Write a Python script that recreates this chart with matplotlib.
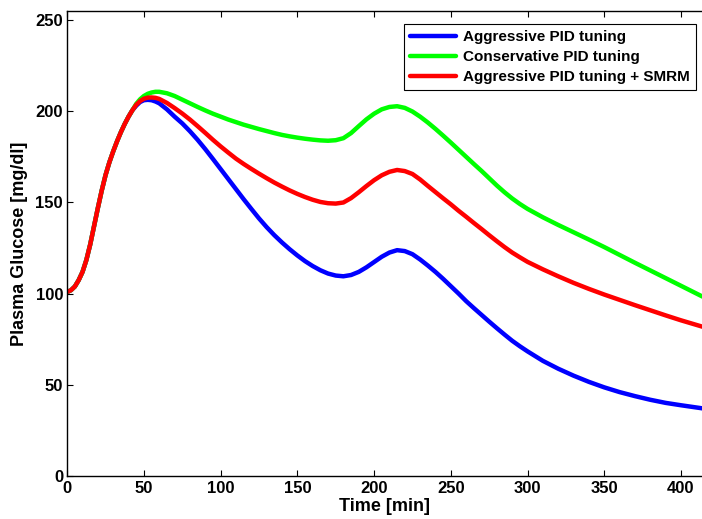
import matplotlib
matplotlib.use("Agg")
import matplotlib.pyplot as plt

plt.rcParams.update({
    "font.family": ["Liberation Sans", "DejaVu Sans"],
    "font.weight": "bold",
    "font.size": 11,
})

# Sample times [min]
t = [0, 2.5, 5, 7.5, 10, 12.5, 15, 17.5, 20, 22.5, 25, 27.5, 30, 32.5, 35,
     37.5, 40, 42.5, 45, 47.5, 50, 52.5, 55, 57.5, 60,
     65, 70, 75, 80, 85, 90, 95, 100, 105, 110, 115, 120, 125, 130, 135, 140,
     145, 150, 155, 160, 165, 170, 175, 180, 185, 190, 195, 200, 205, 210,
     215, 220, 225, 230, 235, 240, 245, 250, 255, 260, 265, 270, 275, 280,
     285, 290, 295, 300,
     310, 320, 330, 340, 350, 360, 370, 380, 390, 400, 414]

# Plasma glucose [mg/dl]
aggressive = [101, 102, 104, 107.5, 112, 118.5, 127, 137, 147, 156.5, 165,
              172, 178, 183.5, 188.5, 193, 197, 200.5, 203, 205, 206, 206.2,
              206, 205.3, 204.3,
              201, 197, 193.3, 189, 184.3, 179.2, 173.8, 168.3, 162.8, 157.3,
              151.8, 146.5, 141.3, 136.5, 132.1, 128.1, 124.4, 121, 117.9,
              115.2, 112.9, 111.1, 110, 109.6, 110.3, 112, 114.5, 117.4,
              120.3, 122.6, 123.9, 123.4, 121.7, 118.8, 115.5, 112, 108.2,
              104.2, 100.2, 96, 92.2, 88.5, 84.8, 81.2, 77.7, 74.3, 71.3,
              68.5,
              63.3, 59, 55.2, 51.8, 48.8, 46.2, 44, 42, 40.3, 39, 37.3]
conservative = [101, 102, 104, 107.5, 112, 118.5, 127, 137, 147, 156.5, 165,
                172, 178, 183.5, 188.5, 193, 197, 200.5, 204, 206.5, 208.3,
                209.5, 210.2, 210.6, 210.6,
                209.8, 208.3, 206.3, 204.3, 202.3, 200.4, 198.6, 197, 195.4,
                194, 192.6, 191.4, 190.2, 189.1, 188, 187, 186.2, 185.5,
                184.9, 184.4, 184, 183.8, 184.1, 185.2, 188, 191.8, 195.5,
                198.6, 201, 202.3, 202.7, 201.8, 199.8, 197, 193.8, 190.3,
                186.6, 182.8, 178.9, 175, 171.1, 167.3, 163.3, 159.3, 155.6,
                152.2, 149.2, 146.5,
                141.9, 137.7, 133.7, 129.7, 125.6, 121.3, 117, 112.8, 108.6,
                104.4, 98.5]
aggressive_smrm = [101, 102, 104, 107.5, 112, 118.5, 127, 137, 147, 156.5,
                   165, 172, 178, 183.5, 188.5, 193, 197, 200.5, 203.5, 205.5,
                   206.8, 207.4, 207.5, 207.3, 206.7,
                   204.5, 201.7, 198.7, 195.4, 191.8, 188.1, 184.3, 180.7,
                   177.3, 174, 171.1, 168.4, 165.8, 163.3, 160.9, 158.7,
                   156.6, 154.7, 153, 151.5, 150.3, 149.6, 149.4, 150, 152.4,
                   155.6, 159, 162.2, 164.9, 166.8, 167.8, 167.2, 165.6,
                   162.6, 159.1, 155.7, 152.3, 149, 145.5, 142.2, 138.8,
                   135.5, 132.1, 128.8, 125.6, 122.6, 120, 117.5,
                   113.4, 109.6, 106, 102.7, 99.6, 96.7, 93.8, 91, 88.2, 85.5,
                   82]

labels = ["Aggressive PID tuning", "Conservative PID tuning",
          "Aggressive PID tuning + SMRM"]
colors = ["#0000ff", "#00ff00", "#ff0000"]
xticks = [0, 50, 100, 150, 200, 250, 300, 350, 400]
yticks = [0, 50, 100, 150, 200, 250]

fig = plt.figure(figsize=(7.02, 5.19), dpi=100)
ax = fig.add_axes([0.0957, 0.0819, 0.9043, 0.8975])

for y, c, lab in zip([aggressive, conservative, aggressive_smrm], colors, labels):
    ax.plot(t, y, color=c, linewidth=3.2, label=lab,
            solid_capstyle="round", solid_joinstyle="round")

ax.set_xlim(0, 413.7)
ax.set_ylim(0, 255)
ax.set_xticks(xticks)
ax.set_yticks(yticks)
ax.tick_params(direction="in", length=4, width=0.8, top=True, right=False,
               labelsize=12, pad=3)
ax.spines["right"].set_visible(False)
for s in ["left", "bottom", "top"]:
    ax.spines[s].set_linewidth(1.0)

ax.set_xlabel("Time [min]", fontsize=13, fontweight="bold", labelpad=2)
ax.set_ylabel("Plasma Glucose [mg/dl]", fontsize=13, fontweight="bold",
              labelpad=5)

leg = ax.legend(loc="upper right", bbox_to_anchor=(0.9905, 0.9714),
                borderaxespad=0, fancybox=False, framealpha=1,
                edgecolor="black", fontsize=11, handlelength=3.0,
                handletextpad=0.45, labelspacing=0.4, borderpad=0.4)
leg.get_frame().set_linewidth(0.8)
for text in leg.get_texts():
    text.set_fontweight("bold")

fig.savefig("out.png", dpi=100)
